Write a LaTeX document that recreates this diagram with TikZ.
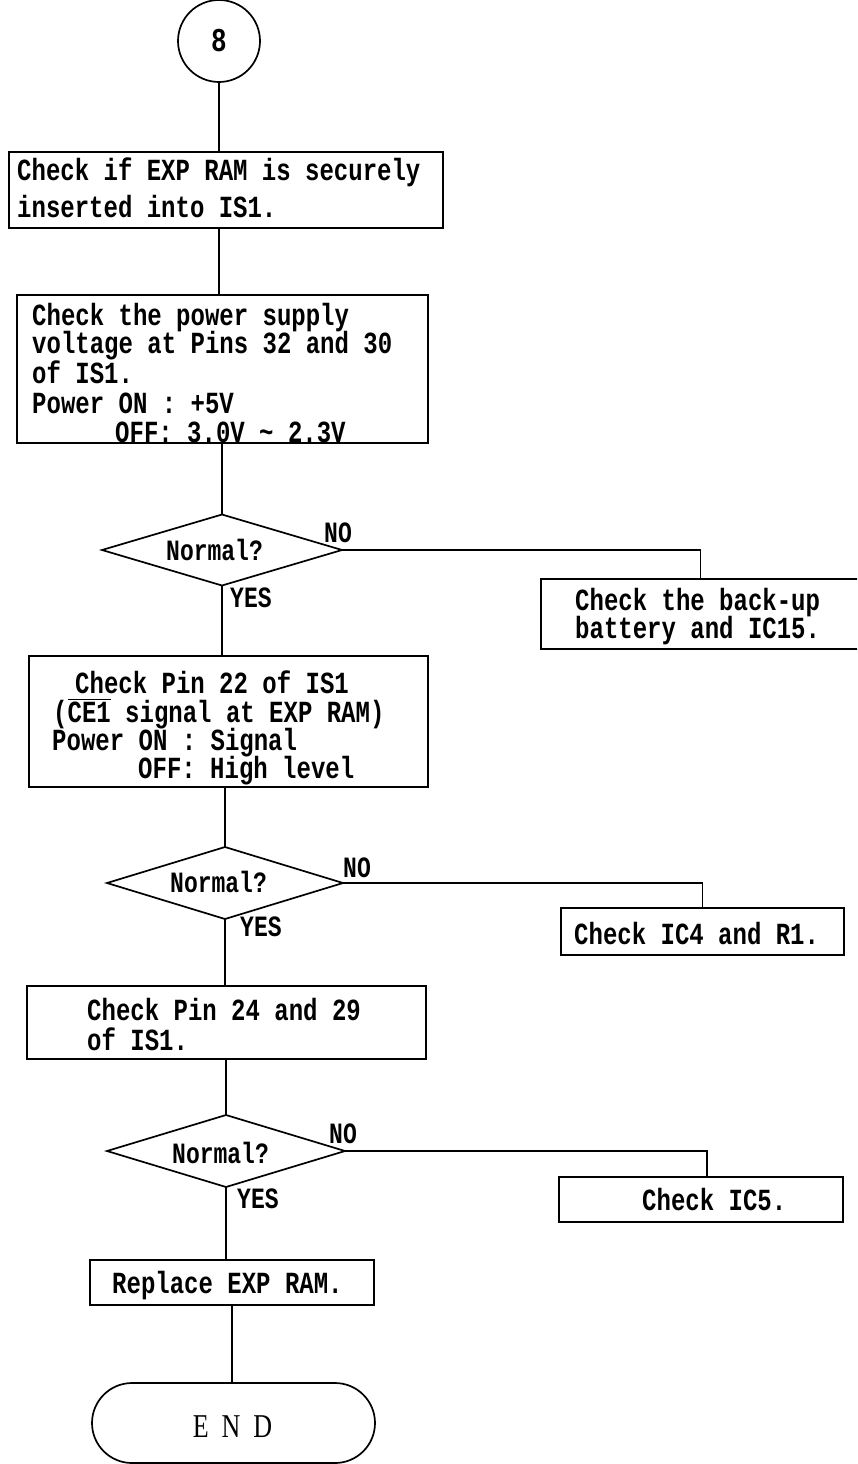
\documentclass[tikz,border=0pt]{standalone}
\usepackage{fontspec}
\usepackage{graphicx}
\setmainfont{Liberation Serif}
\newfontfamily\mono{Liberation Mono}
\newcommand\vsc[1]{\scalebox{1}[1.28]{#1}}
\usetikzlibrary{shapes.geometric}
\begin{document}
\begin{tikzpicture}[x=1pt,y=-1pt,
  ln/.style={line width=1.7pt},
  box/.style={draw,line width=1.7pt,rectangle,inner sep=0pt,outer sep=0pt},
  dia/.style={draw,line width=1.7pt,diamond,inner sep=0pt,outer sep=0pt},
  txt/.style={anchor=base west,inner sep=0pt,font=\mono\bfseries\fontsize{24}{28}\selectfont},
  lbl/.style={anchor=base west,inner sep=0pt,font=\mono\bfseries\fontsize{23}{28}\selectfont}]
\useasboundingbox (0,0) rectangle (857,1464);
\clip (0,0) rectangle (857,1464);
\fill[white] (0,0) rectangle (857,1464);

% shapes
\node[draw,circle,line width=1.7pt,minimum size=82pt,inner sep=0pt,outer sep=0pt,
  font=\mono\bfseries\fontsize{26}{28}\selectfont] (c8) at (219,41) {\vsc{8}};
\node[box,minimum width=434pt,minimum height=76pt] (b1) at (226,190) {};
\node[box,minimum width=411pt,minimum height=148pt] (b2) at (222.5,369) {};
\node[dia,minimum width=240pt,minimum height=71pt] (d1) at (222,550) {};
\node[box,minimum width=339pt,minimum height=70pt] (b3) at (710.5,614) {};
\node[box,minimum width=399pt,minimum height=131pt] (b4) at (228.5,721.5) {};
\node[dia,minimum width=236pt,minimum height=72pt] (d2) at (225,883) {};
\node[box,minimum width=283pt,minimum height=47pt] (b5) at (702.5,931.5) {};
\node[box,minimum width=399pt,minimum height=73pt] (b6) at (226.5,1022.5) {};
\node[dia,minimum width=238pt,minimum height=72pt] (d3) at (226,1151) {};
\node[box,minimum width=284pt,minimum height=45pt] (b7) at (701,1199.5) {};
\node[box,minimum width=284pt,minimum height=45pt] (b8) at (232,1282.5) {};
\node[box,rounded corners=40pt,minimum width=283pt,minimum height=80pt] (end) at (233.5,1423) {};

% texts
\node[txt] (t1a) at (17,180) {\vsc{Check if EXP RAM is securely}};
\node[txt] (t1b) at (17,217) {\vsc{inserted into IS1.}};

\node[txt] (t2a) at (32,325) {\vsc{Check the power supply}};
\node[txt] (t2b) at (32,353) {\vsc{voltage at Pins 32 and 30}};
\node[txt] (t2c) at (32,383) {\vsc{of IS1.}};
\node[txt] (t2d) at (32,413) {\vsc{Power ON : +5V}};
\node[txt] (t2e) at (115,442) {\vsc{OFF: 3.0V \textasciitilde{} 2.3V}};

\node[lbl] (n1) at (166,560) {\vsc{Normal?}};
\node[lbl] (no1) at (324,542) {\vsc{NO}};
\node[lbl] (yes1) at (230,607) {\vsc{YES}};

\node[txt] (t3a) at (575,610) {\vsc{Check the back-up}};
\node[txt] (t3b) at (575,638) {\vsc{battery and IC15.}};

\node[txt] (t4a) at (75,693) {\vsc{Check Pin 22 of IS1}};
\node[txt] (t4b) at (53,722) {\vsc{($\overline{\hbox{CE1}}$ signal at EXP RAM)}};
\node[txt] (t4c) at (52,750) {\vsc{Power ON : Signal}};
\node[txt] (t4d) at (138,778) {\vsc{OFF: High level}};

\node[lbl] (n2) at (170,892) {\vsc{Normal?}};
\node[lbl] (no2) at (343,877) {\vsc{NO}};
\node[lbl] (yes2) at (240,936) {\vsc{YES}};

\node[txt] (t5) at (574,944) {\vsc{Check IC4 and R1.}};

\node[txt] (t6a) at (87,1020) {\vsc{Check Pin 24 and 29}};
\node[txt] (t6b) at (87,1050) {\vsc{of IS1.}};

\node[lbl] (n3) at (172,1163) {\vsc{Normal?}};
\node[lbl] (no3) at (329,1143) {\vsc{NO}};
\node[lbl] (yes3) at (237,1208) {\vsc{YES}};

\node[txt] (t7) at (642,1210) {\vsc{Check IC5.}};
\node[txt] (t8) at (112,1293) {\vsc{Replace EXP RAM.}};
\node[anchor=base,inner sep=0pt,font=\fontsize{26}{28}\selectfont] (tend) at (232.5,1437)
  {\vsc{E\hspace{13pt}N\hspace{13pt}D}};

% connectors
\draw[ln] (c8.south) -- (c8.south |- b1.north);
\draw[ln] (c8.south |- b1.south) -- (c8.south |- b2.north);
\draw[ln] (d1.north |- b2.south) -- (d1.north);
\draw[ln] (d1.east) -| ([xshift=-10pt]b3.north);
\draw[ln] (d1.south) -- (d1.south |- b4.north);
\draw[ln] (d2.north |- b4.south) -- (d2.north);
\draw[ln] (d2.east) -| (b5.north);
\draw[ln] (d2.south) -- (d2.south |- b6.north);
\draw[ln] (d3.north |- b6.south) -- (d3.north);
\draw[ln] (d3.east) -| ([xshift=6pt]b7.north);
\draw[ln] (d3.south) -- (d3.south |- b8.north);
\draw[ln] (b8.south) -- (b8.south |- end.north);
\end{tikzpicture}
\end{document}
